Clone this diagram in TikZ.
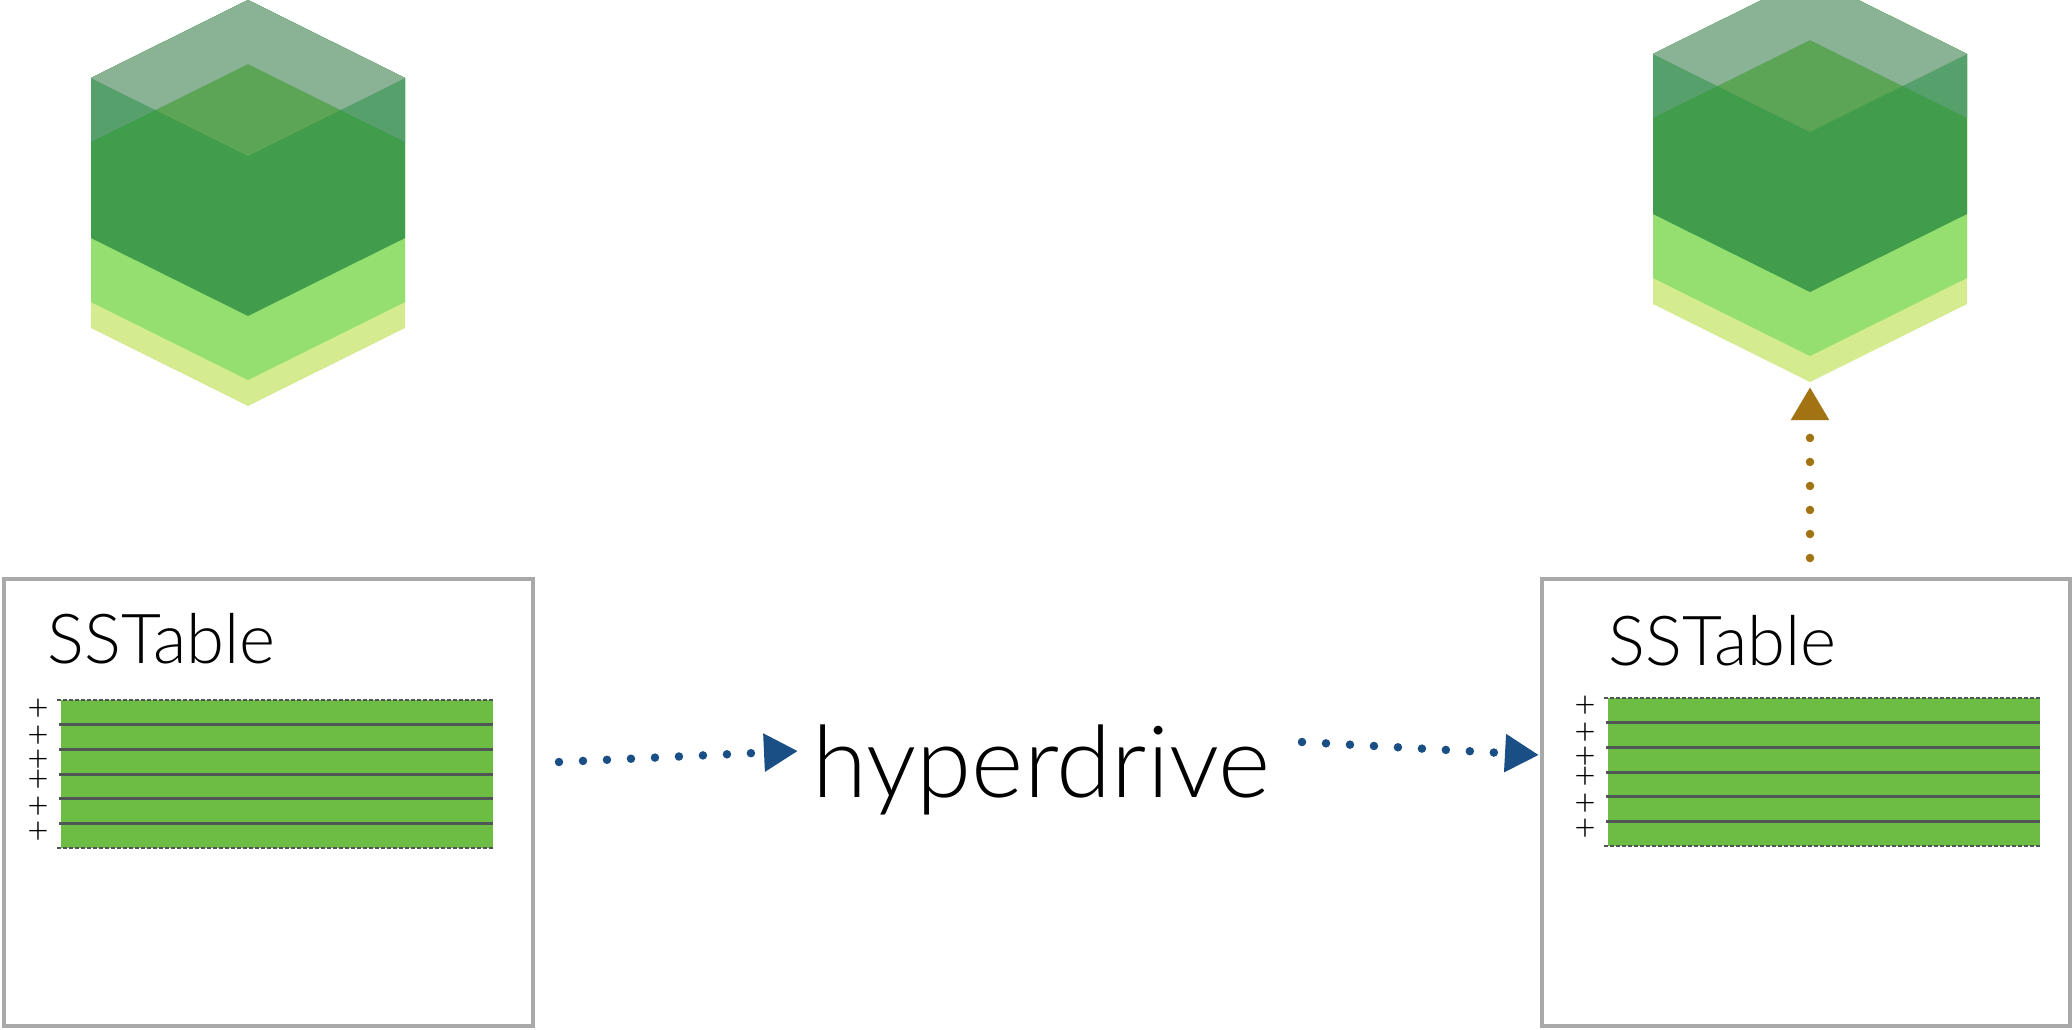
\documentclass[tikz,border=0pt]{standalone}
\usepackage{fontspec}
\setmainfont{Lato Light}
\usetikzlibrary{arrows.meta}

\definecolor{grigioCassa}{HTML}{A9A9A9}
\definecolor{grigioRiga}{HTML}{505556}
\definecolor{verdeTab}{HTML}{6DBD44}
\definecolor{giallo}{HTML}{D4EB90}
\definecolor{verdeChiaro}{HTML}{94DF70}
\definecolor{verdeScuro}{HTML}{419C4C}
\definecolor{verdeFaccia}{HTML}{5CA456}
\definecolor{coperchio}{HTML}{56A06B}
\definecolor{coperchioFaccia}{HTML}{8AB294}
\definecolor{blu}{HTML}{1A4F86}
\definecolor{ocra}{HTML}{A27312}

\begin{document}
\begin{tikzpicture}[x=0.01cm,y=-0.01cm,
		cassa/.style={draw=grigioCassa, line width=0.04cm, inner sep=0pt, minimum width=5.28cm, minimum height=4.47cm},
		riga/.style={draw=grigioRiga, line width=0.03cm},
		bordo/.style={draw=grigioRiga, line width=0.02cm, dash pattern=on 0.04cm off 0.02cm},
		piu/.style={inner sep=0pt, align=center, font={\fontsize{10.5}{7}\selectfont\lineskiplimit=-50pt}},
		titolo/.style={anchor=base west, inner sep=0pt, font=\fontsize{19.6}{19.6}\selectfont},
		flusso/.style={line width=0.085cm, line cap=round, dash pattern=on 0pt off 0.24cm},
		]
		\useasboundingbox (0,0) rectangle (2072,1029);
		\clip (0,0) rectangle (2072,1029);
		% ── Parametri ──
		\def\semil{157}\def\pend{78}
		\def\largT{432}\def\altT{148}\def\passoT{24.7}
		% ── Cubo a strati: (#1,#2) = centro, vertice superiore ──
		\def\cubo#1#2{%
			\begin{scope}[shift={(#1,#2)}]
				\fill[giallo] (0,0) -- (\semil,\pend) -- (\semil,328) -- (0,406) -- (-\semil,328) -- (-\semil,\pend) -- cycle;
				\fill[verdeChiaro] (0,0) -- (\semil,\pend) -- (\semil,302) -- (0,380) -- (-\semil,302) -- (-\semil,\pend) -- cycle;
				\fill[verdeScuro] (0,0) -- (\semil,\pend) -- (\semil,238) -- (0,316) -- (-\semil,238) -- (-\semil,\pend) -- cycle;
				\fill[verdeFaccia] (0,0) -- (\semil,\pend) -- (0,156) -- (-\semil,\pend) -- cycle;
				\fill[coperchio] (0,0) -- (\semil,\pend) -- (\semil,142) -- (0,64) -- (-\semil,142) -- (-\semil,\pend) -- cycle;
				\fill[coperchioFaccia] (0,0) -- (\semil,\pend) -- (92.6,110) -- (0,64) -- (-92.6,110) -- (-\semil,\pend) -- cycle;
			\end{scope}}
		% ── Tabella a righe: (#1,#2) = spigolo in alto a sinistra ──
		\def\tabella#1#2{%
			\fill[verdeTab] (#1,#2) rectangle ++(\largT,\altT);
			\foreach \k in {1,...,5}\draw[riga] (#1-2,{#2+\k*\passoT}) -- ++(\largT+2,0);
			\draw[bordo] (#1-4,#2) -- ++(\largT+4,0);
			\draw[bordo] (#1-4,#2+\altT) -- ++(\largT+4,0);}
		\def\segni{+\\[0.7pt]+\\[-0.2pt]+\\[-1.3pt]+\\[0.7pt]+\\[0.1pt]+}
		
		% ===================== cubi =====================
		\cubo{248}{0}
		\cubo{1810}{-24}
		
		% ===================== SSTable di sinistra =====================
		\node[cassa] (sstA) at (268.5,802.5) {};
		\node[titolo] (titA) at (47,663) {SSTable};
		\tabella{61}{700}
		\node[piu] (piuA) at (38,771.5) {\segni};
		
		% ===================== SSTable di destra =====================
		\node[cassa] (sstB) at (1806,802.5) {};
		\node[titolo] (titB) at (1608,665) {SSTable};
		\tabella{1608}{698}
		\node[piu] (piuB) at (1585,768) {\segni};
		
		% ===================== hyperdrive e frecce =====================
		\node[anchor=base west, inner sep=0pt, font=\fontsize{28.4}{28.4}\selectfont] (hd) at (812,797) {hyperdrive};
		\coordinate (iA) at (559,762);  \coordinate (fA) at (798,751);
		\coordinate (iB) at (1302,742); \coordinate (fB) at (1539,755);
		\coordinate (iC) at (1810,558); \coordinate (fC) at (1810,387);
		\draw[flusso, blu, -{Triangle[length=0.34cm,width=0.36cm]}] (iA) -- (fA);
		\draw[flusso, blu, -{Triangle[length=0.34cm,width=0.36cm]}] (iB) -- (fB);
		\draw[flusso, ocra, -{Triangle[length=0.33cm,width=0.36cm]}] (iC) -- (fC);
		
\end{tikzpicture}
\end{document}
